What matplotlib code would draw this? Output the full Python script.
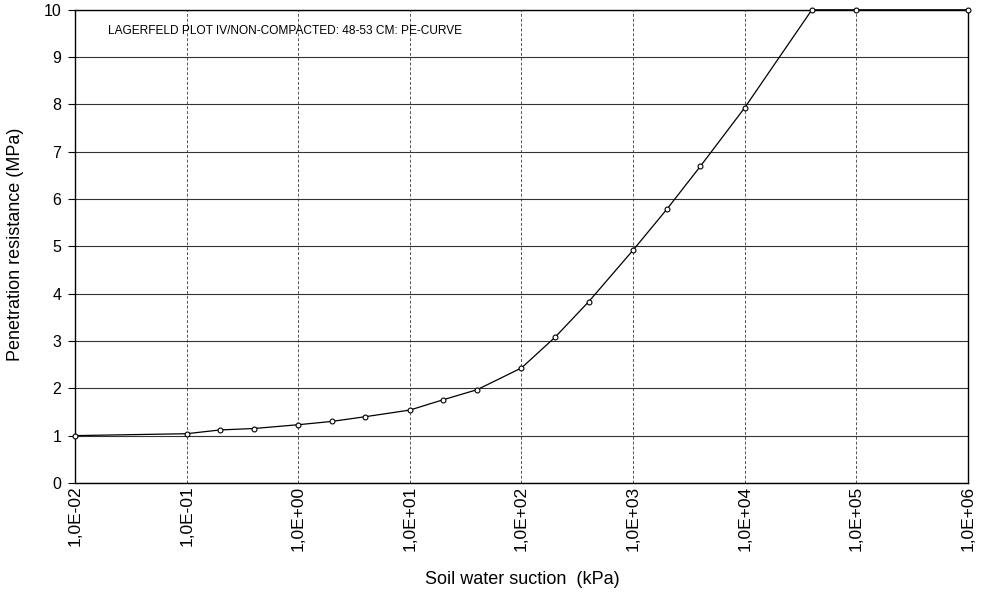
import matplotlib
matplotlib.use('Agg')
import matplotlib.pyplot as plt
import matplotlib.ticker as mticker

plt.rcParams['font.family'] = ['Liberation Sans', 'DejaVu Sans']

# Datos (succion en kPa, resistencia en MPa)
succion = [0.01, 0.1, 0.2, 0.4, 1, 2, 4, 10, 20, 40, 100, 200, 400,
           1000, 2000, 4000, 10000, 40000, 100000, 1000000]
resistencia = [1.0, 1.04, 1.12, 1.15, 1.23, 1.30, 1.40, 1.54, 1.76, 1.97,
               2.43, 3.08, 3.83, 4.92, 5.78, 6.69, 7.93, 10.0, 10.0, 10.0]
x_ticks = [1e-2, 1e-1, 1e0, 1e1, 1e2, 1e3, 1e4, 1e5, 1e6]
x_labels = ['1,0E-02', '1,0E-01', '1,0E+00', '1,0E+01', '1,0E+02',
            '1,0E+03', '1,0E+04', '1,0E+05', '1,0E+06']
y_ticks = list(range(0, 11))
titulo = 'LAGERFELD PLOT IV/NON-COMPACTED: 48-53 CM: PE-CURVE'

fig = plt.figure(figsize=(9.91, 5.94), dpi=100)
ax = fig.add_axes([0.0757, 0.187, 0.901, 0.7965])

ax.plot(succion, resistencia, '-', color='black', lw=0.9,
        marker='o', ms=3.5, mfc='white', mec='black', mew=0.8,
        clip_on=False, zorder=3)

ax.set_xscale('log')
ax.set_xlim(1e-2, 1e6)
ax.set_ylim(0, 10)
ax.xaxis.set_major_locator(mticker.FixedLocator(x_ticks))
ax.xaxis.set_minor_locator(mticker.NullLocator())
ax.set_xticks(x_ticks)
ax.set_xticklabels(x_labels, rotation=90, fontsize=12.5, va='top')
ax.set_yticks(y_ticks)
ax.set_yticklabels([str(v) for v in y_ticks], fontsize=11.5)

# cuadricula: vertical punteada, horizontal continua
ax.xaxis.grid(True, color='#555555', lw=0.7, ls=(0, (3, 2)))
ax.yaxis.grid(True, color='#333333', lw=0.8, ls='-')
ax.tick_params(axis='x', length=0, pad=2)
ax.tick_params(axis='y', length=5, width=0.8, direction='out', pad=5)

for lado in ax.spines.values():
    lado.set_linewidth(1.0)
    lado.set_color('black')

ax.text(0.037, 0.955, titulo, transform=ax.transAxes, fontsize=8.6,
        ha='left', va='center')
fig.text(0.016, 0.588, 'Penetration resistance (MPa)', fontsize=13,
         rotation=90, ha='center', va='center')
fig.text(0.527, 0.024, 'Soil water suction  (kPa)', fontsize=13,
         ha='center', va='center')

fig.savefig('out.png', dpi=100)
